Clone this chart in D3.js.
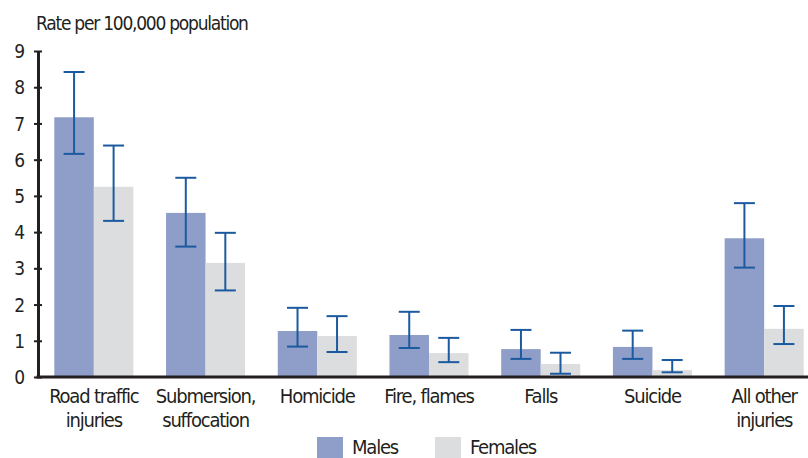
<!DOCTYPE html>
<html>
<head>
<meta charset="utf-8">
<script src="https://cdn.jsdelivr.net/npm/d3@7"></script>
<style>
  html, body { margin: 0; padding: 0; background: #fff; }
  svg text { font-family: "Liberation Sans Narrow", "DejaVu Sans Condensed", sans-serif; fill: #231f20; }
</style>
</head>
<body>
<svg id="chart" width="808" height="458"></svg>
<script>
// Injury death rates per 100,000 population, by cause and sex
const categories = ["Road traffic|injuries", "Submersion,|suffocation", "Homicide", "Fire, flames", "Falls", "Suicide", "All other|injuries"];
const series = ["Males", "Females"];
const males        = [7.17, 4.53, 1.27, 1.16, 0.77, 0.83, 3.83];
const malesLow     = [6.16, 3.60, 0.84, 0.80, 0.50, 0.50, 3.02];
const malesHigh    = [8.42, 5.50, 1.91, 1.80, 1.30, 1.28, 4.80];
const females      = [5.25, 3.15, 1.13, 0.66, 0.36, 0.19, 1.33];
const femalesLow   = [4.31, 2.39, 0.69, 0.41, 0.09, 0.13, 0.91];
const femalesHigh  = [6.39, 3.98, 1.68, 1.08, 0.67, 0.47, 1.96];
const yTicks = [0, 1, 2, 3, 4, 5, 6, 7, 8, 9];

const colors = { Males: "#8e9ec8", Females: "#dcdddf" };
const errColor = "#1c5a9f";

const svg = d3.select("#chart");

const x0 = d3.scaleBand().domain(categories).range([38, 820]).paddingInner(0.2925).paddingOuter(0.146);
const x1 = d3.scaleBand().domain(series).range([0, x0.bandwidth()]);
const y = d3.scaleLinear().domain([0, 9]).range([377, 51]);

const rows = categories.map((c, i) => ({
  cat: c,
  bars: [
    { s: "Males", v: males[i], lo: malesLow[i], hi: malesHigh[i] },
    { s: "Females", v: females[i], lo: femalesLow[i], hi: femalesHigh[i] }
  ]
}));

// Bars
const groups = svg.append("g").selectAll("g").data(rows).join("g")
  .attr("transform", d => `translate(${x0(d.cat)},0)`);

groups.selectAll("rect").data(d => d.bars).join("rect")
  .attr("x", d => x1(d.s))
  .attr("y", d => y(d.v))
  .attr("width", x1.bandwidth())
  .attr("height", d => y(0) - y(d.v))
  .attr("fill", d => colors[d.s]);

// Error bars
const eb = groups.selectAll("g.err").data(d => d.bars).join("g").attr("class", "err")
  .attr("transform", d => `translate(${x1(d.s) + x1.bandwidth() / 2},0)`)
  .attr("stroke", errColor).attr("stroke-width", 2).attr("fill", "none");
eb.append("line").attr("x1", 0).attr("x2", 0).attr("y1", d => y(d.hi)).attr("y2", d => y(d.lo));
eb.append("line").attr("x1", -10.5).attr("x2", 10.5).attr("y1", d => y(d.hi)).attr("y2", d => y(d.hi));
eb.append("line").attr("x1", -10.5).attr("x2", 10.5).attr("y1", d => y(d.lo)).attr("y2", d => y(d.lo));

// Y axis
const yAxis = svg.append("g").attr("transform", "translate(38,0)")
  .call(d3.axisLeft(y).tickValues(yTicks).tickSize(4).tickSizeOuter(0));
yAxis.select(".domain").attr("stroke", "#231f20").attr("stroke-width", 3);
yAxis.selectAll(".tick line").attr("stroke", "#231f20").attr("stroke-width", 2).attr("x1", 4).attr("x2", -4);
yAxis.selectAll(".tick text").attr("x", -13).attr("font-size", 19).attr("dy", "0.35em")
  .style("font-family", "'Liberation Sans Narrow', 'DejaVu Sans Condensed', sans-serif").attr("fill", "#231f20");

// X baseline
svg.append("line").attr("x1", 36.5).attr("x2", 808).attr("y1", y(0)).attr("y2", y(0))
  .attr("stroke", "#231f20").attr("stroke-width", 3);

// Category labels
const lab = svg.append("g").selectAll("text").data(categories).join("text")
  .attr("text-anchor", "middle")
  .attr("font-size", 20)
  .attr("letter-spacing", "-1.2")
  .attr("transform", d => `translate(${x0(d) + x0.bandwidth() / 2},403)`);
lab.selectAll("tspan").data(d => d.split("|")).join("tspan")
  .attr("x", 0).attr("dy", (d, i) => i === 0 ? 0 : 24).text(d => d);

// Title
svg.append("text").attr("x", 36).attr("y", 30).attr("font-size", 19).attr("letter-spacing", "-1.25")
  .text("Rate per 100,000 population");

// Legend
const legend = svg.append("g").selectAll("g").data(series).join("g")
  .attr("transform", (d, i) => `translate(${[317, 435][i]},437)`);
legend.append("rect").attr("width", 26).attr("height", 22).attr("fill", d => colors[d]);
legend.append("text").attr("x", 35).attr("y", 17).attr("font-size", 20).attr("letter-spacing", "-1.2").text(d => d);
</script>
</body>
</html>
